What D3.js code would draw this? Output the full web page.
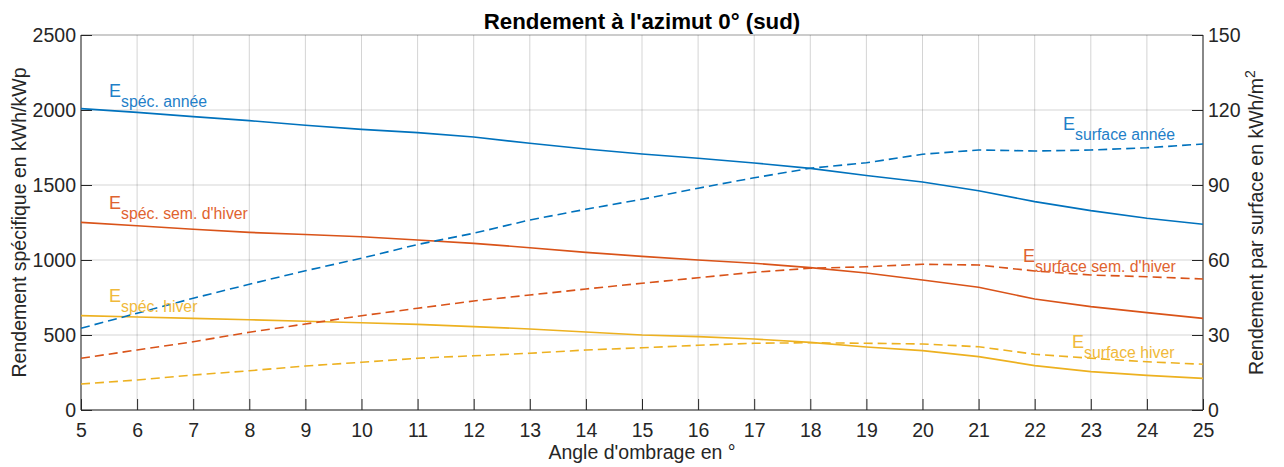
<!DOCTYPE html>
<meta charset="utf-8">
<style>
  body { margin: 0; background: #fff; }
  svg text { font-family: "Liberation Sans", Arial, sans-serif; }
  .axis path { display: none; }
  .axis text { font-size: 19.5px; fill: #262626; }
</style>

<div class="chart"></div>

<script src="https://cdn.jsdelivr.net/npm/d3@7"></script>

<script>
    // angles d'ombrage
    var angles = [5, 6, 7, 8, 9, 10, 11, 12, 13, 14, 15, 16, 17, 18, 19, 20, 21, 22, 23, 24, 25];

    // axe gauche (kWh/kWp)
    var specAnnee = [2009, 1984, 1956, 1929, 1898, 1871, 1849, 1820, 1778, 1740, 1707, 1678, 1647, 1611, 1563, 1520, 1462, 1389, 1329, 1278, 1238];
    var specSemHiver = [1251, 1228, 1205, 1184, 1170, 1155, 1133, 1111, 1082, 1051, 1024, 1000, 978, 949, 913, 867, 818, 740, 689, 649, 611];
    var specHiver = [629, 620, 611, 602, 592, 582, 571, 556, 540, 520, 500, 489, 473, 451, 420, 396, 356, 296, 256, 231, 211];

    // axe droit (kWh/m2)
    var surfAnnee = [32.7, 38.7, 44.7, 50.3, 55.7, 60.7, 66.2, 70.7, 76.0, 80.3, 84.3, 88.7, 92.9, 96.7, 98.9, 102.3, 104.0, 103.6, 104.0, 104.9, 106.4];
    var surfSemHiver = [20.7, 24.0, 27.3, 31.1, 34.4, 37.7, 40.7, 43.6, 46.0, 48.4, 50.7, 52.9, 55.1, 56.7, 57.3, 58.3, 58.0, 55.6, 54.0, 53.3, 52.4];
    var surfHiver = [10.4, 12.0, 14.0, 15.7, 17.6, 19.1, 20.7, 21.7, 22.7, 24.0, 24.9, 25.9, 26.7, 26.9, 26.7, 26.4, 25.3, 22.3, 20.7, 19.3, 18.3];

    var leftTicks = [0, 500, 1000, 1500, 2000, 2500];
    var rightTicks = [0, 30, 60, 90, 120, 150];

    var blue = "#0072bd", orange = "#d95319", yellow = "#edb120";

    var margin = {top: 35, right: 81, bottom: 57, left: 81};
    var width = 1284 - margin.left - margin.right,
        height = 467 - margin.top - margin.bottom;

    var x = d3.scaleLinear().domain([5, 25]).range([0, width]);
    var yLeft = d3.scaleLinear().domain([0, 2500]).range([height, 0]);
    var yRight = d3.scaleLinear().domain([0, 150]).range([height, 0]);

    var svg = d3.select('.chart')
        .append("svg")
        .attr("width", 1284)
        .attr("height", 467)
        .append("g")
        .attr("transform", "translate(" + margin.left + "," + margin.top + ")");

    // grille
    svg.append("g").selectAll("line")
        .data(angles)
        .enter().append("line")
        .attr("x1", (d) => x(d)).attr("x2", (d) => x(d))
        .attr("y1", 0).attr("y2", height)
        .attr("stroke", "#262626").attr("stroke-opacity", 0.2);

    svg.append("g").selectAll("line")
        .data(leftTicks)
        .enter().append("line")
        .attr("x1", 0).attr("x2", width)
        .attr("y1", (d) => yLeft(d)).attr("y2", (d) => yLeft(d))
        .attr("stroke", "#262626").attr("stroke-opacity", 0.2);

    // axes
    var xAxis = d3.axisBottom(x).tickValues(angles).tickSize(-11).tickPadding(13).tickFormat(d3.format("d"));
    var yAxisL = d3.axisLeft(yLeft).tickValues(leftTicks).tickSize(-11).tickPadding(5).tickFormat(d3.format("d"));
    var yAxisR = d3.axisRight(yRight).tickValues(rightTicks).tickSize(-11).tickPadding(5).tickFormat(d3.format("d"));

    svg.append("g").attr("class", "x axis")
        .attr("transform", "translate(0," + height + ")")
        .call(xAxis);
    svg.append("g").attr("class", "y axis").call(yAxisL);
    svg.append("g").attr("class", "y axis")
        .attr("transform", "translate(" + width + ",0)")
        .call(yAxisR);

    svg.selectAll(".axis .tick line").attr("stroke", "#262626").attr("stroke-width", 1);

    // cadre
    svg.append("path")
        .attr("d", "M0,0V" + height + "H" + width + "V0")
        .attr("fill", "none").attr("stroke", "#262626");
    svg.append("line")
        .attr("x1", 0).attr("x2", width).attr("y1", 0).attr("y2", 0)
        .attr("stroke", "#262626").attr("stroke-opacity", 0.3);

    // courbes
    var series = [
        {values: specAnnee, scale: yLeft, color: blue, dash: null},
        {values: specSemHiver, scale: yLeft, color: orange, dash: null},
        {values: specHiver, scale: yLeft, color: yellow, dash: null},
        {values: surfAnnee, scale: yRight, color: blue, dash: "9,5"},
        {values: surfSemHiver, scale: yRight, color: orange, dash: "9,5"},
        {values: surfHiver, scale: yRight, color: yellow, dash: "9,5"}
    ];

    series.forEach((s) => {
        var line = d3.line()
            .x((d, i) => x(angles[i]))
            .y((d) => s.scale(d));
        svg.append("path")
            .datum(s.values)
            .attr("d", line)
            .attr("fill", "none")
            .attr("stroke", s.color)
            .attr("stroke-width", 1.6)
            .attr("stroke-dasharray", s.dash);
    });

    // étiquettes E
    var labels = [
        {sub: "spéc. année", x: 109, y: 97, color: "#1f80c8"},
        {sub: "spéc. sem. d'hiver", x: 109, y: 209, color: "#df6330"},
        {sub: "spéc. hiver", x: 109, y: 302, color: "#f0b93a"},
        {sub: "surface année", x: 1063, y: 130, color: "#1f80c8"},
        {sub: "surface sem. d'hiver", x: 1023, y: 262, color: "#df6330"},
        {sub: "surface hiver", x: 1072, y: 348, color: "#f0b93a"}
    ];

    var root = d3.select('.chart svg');

    labels.forEach((l) => {
        var t = root.append("text")
            .attr("x", l.x).attr("y", l.y)
            .attr("fill", l.color)
            .style("font-size", "18px");
        t.append("tspan").text("E");
        t.append("tspan").attr("dy", 10).style("font-size", "15.8px").text(l.sub);
    });

    // titres
    root.append("text")
        .attr("x", margin.left + width / 2).attr("y", 29)
        .attr("text-anchor", "middle")
        .style("font-size", "22.3px").style("font-weight", "bold")
        .attr("fill", "#000")
        .text("Rendement à l'azimut 0° (sud)");

    root.append("text")
        .attr("x", margin.left + width / 2).attr("y", 459)
        .attr("text-anchor", "middle")
        .style("font-size", "19.5px").attr("fill", "#262626")
        .text("Angle d'ombrage en °");

    root.append("text")
        .attr("transform", "translate(26," + (margin.top + height / 2) + ") rotate(-90)")
        .attr("text-anchor", "middle")
        .style("font-size", "19.5px").attr("fill", "#262626")
        .text("Rendement spécifique en kWh/kWp");

    var rl = root.append("text")
        .attr("transform", "translate(1263," + (margin.top + height / 2) + ") rotate(-90)")
        .attr("text-anchor", "middle")
        .style("font-size", "19.5px").attr("fill", "#262626");
    rl.append("tspan").text("Rendement par surface en kWh/m");
    rl.append("tspan").attr("dy", -8).style("font-size", "14px").text("2");
</script>
